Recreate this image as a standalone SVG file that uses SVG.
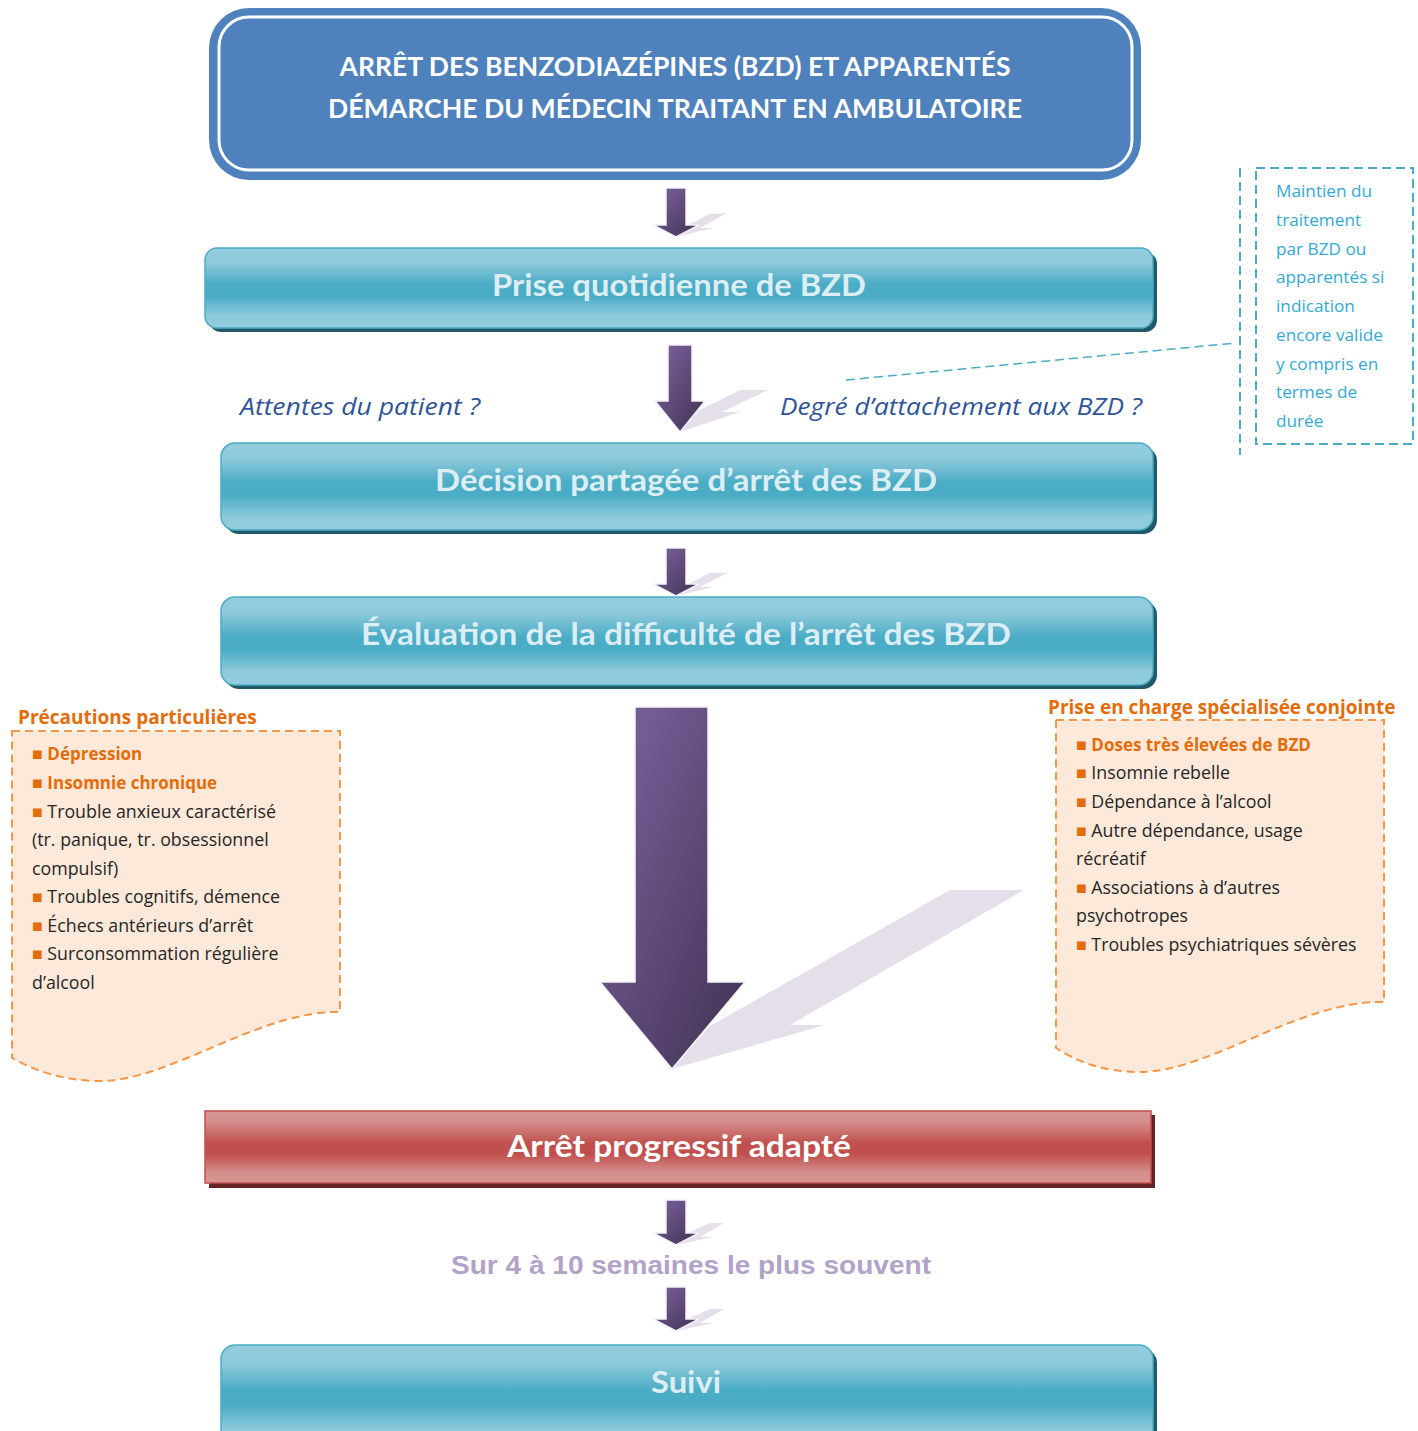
<svg xmlns="http://www.w3.org/2000/svg" width="1418" height="1431" viewBox="0 0 1418 1431">
<style>
.h{font-family:Lato,"Open Sans","Liberation Sans",sans-serif;font-weight:bold;text-anchor:middle}
.teal{fill:#DCEEF3;font-size:30px}
.q{font-family:"Open Sans",Lato,"Liberation Sans",sans-serif;font-style:italic;font-size:23px;fill:#2F5597}
.blue{font-family:"Open Sans",Lato,"Liberation Sans",sans-serif;font-size:17.2px;fill:#33A9D6}
.li{font-family:"Open Sans",Lato,"Liberation Sans",sans-serif;font-size:17.8px;fill:#262626}
.or{fill:#E46C0A;font-weight:bold;font-size:17px}
.bul{fill:#E46C0A}
.otitle{font-family:"Open Sans",Lato,"Liberation Sans",sans-serif;font-weight:bold;font-size:19px;fill:#E46C0A}
.obox{fill:#FDE9D9;stroke:#F79646;stroke-width:2;stroke-dasharray:8 5}
.shadow{fill:#E5DFEC}
.arrow{fill:url(#ag);stroke:#F4F1F7;stroke-width:1.5}
</style>
<defs>
<linearGradient id="tg" x1="0" y1="0" x2="0" y2="1">
<stop offset="0" stop-color="#93CDDD"/><stop offset="0.18" stop-color="#8ECADB"/><stop offset="0.45" stop-color="#4BACC6"/><stop offset="0.6" stop-color="#4BACC6"/><stop offset="0.85" stop-color="#8ECADB"/><stop offset="1" stop-color="#93CDDD"/>
</linearGradient>
<linearGradient id="rg" x1="0" y1="0" x2="0" y2="1">
<stop offset="0" stop-color="#D99694"/><stop offset="0.15" stop-color="#D48E8C"/><stop offset="0.45" stop-color="#C0504D"/><stop offset="0.6" stop-color="#C0504D"/><stop offset="0.85" stop-color="#D48E8C"/><stop offset="1" stop-color="#D99694"/>
</linearGradient>
<linearGradient id="ag" x1="0" y1="0" x2="1" y2="1">
<stop offset="0" stop-color="#8064A2"/><stop offset="1" stop-color="#3F3151"/>
</linearGradient>
</defs>

<g id="connectors">
<g id="arrow1">
<polygon class="shadow" points="676,237 690,224 710,214 727,213 700,228 713,228"/>
<polygon class="arrow" points="666,188 686,188 686,225 699,225 676,237 653,225 666,225"/>
</g>
<g id="arrow2">
<polygon class="shadow" points="680,432 696,412 740,390 768,390 722,412 740,412"/>
<polygon class="arrow" points="668,345 692,345 692,401 705,401 680,432 655,401 668,401"/>
</g>
<g id="arrow3">
<polygon class="shadow" points="676,596 690,583 710,573 727,573 700,587 713,587"/>
<polygon class="arrow" points="666,548 686,548 686,584 699,584 676,596 653,584 666,584"/>
</g>
<g id="arrow4">
<polygon class="shadow" points="672,1069 710,1026 950,890 1024,890 790,1025 825,1025"/>
<polygon class="arrow" points="635,707 708,707 708,982 745,982 672,1069 600,982 635,982"/>
</g>
<g id="arrow5">
<polygon class="shadow" points="676,1245 690,1232 710,1223 724,1223 700,1237 713,1237"/>
<polygon class="arrow" points="666,1200 686,1200 686,1233 699,1233 676,1245 653,1233 666,1233"/>
</g>
<g id="arrow6">
<polygon class="shadow" points="676,1331 690,1318 710,1309 724,1309 700,1323 713,1323"/>
<polygon class="arrow" points="666,1287 686,1287 686,1319 699,1319 676,1331 653,1319 666,1319"/>
</g>
<line id="note-link" x1="846" y1="380" x2="1236" y2="343" stroke="#4BACC6" stroke-width="1.5" stroke-dasharray="9 5"/>
</g>

<g id="title">
<rect x="209" y="8" width="932" height="172" rx="40" fill="#4F81BD"/>
<rect x="219" y="17" width="913" height="153" rx="30" fill="none" stroke="#FFFFFF" stroke-width="3"/>
<text class="h" x="675" y="76" font-size="26" fill="#FFFFFF" textLength="671" lengthAdjust="spacingAndGlyphs">ARRÊT DES BENZODIAZÉPINES (BZD) ET APPARENTÉS</text>
<text class="h" x="675" y="118" font-size="26" fill="#FFFFFF" textLength="694" lengthAdjust="spacingAndGlyphs">DÉMARCHE DU MÉDECIN TRAITANT EN AMBULATOIRE</text>
</g>

<g id="prise">
<rect x="209" y="252" width="948" height="80" rx="12" fill="#215968"/>
<rect x="205" y="248" width="948" height="80" rx="12" fill="url(#tg)" stroke="#4BACC6" stroke-width="1.5"/>
<text class="h teal" x="679" y="296" textLength="374" lengthAdjust="spacingAndGlyphs">Prise quotidienne de BZD</text>
</g>

<g id="questions">
<text class="q" x="240" y="415" textLength="240" lengthAdjust="spacingAndGlyphs">Attentes du patient ?</text>
<text class="q" x="780" y="415" textLength="362" lengthAdjust="spacingAndGlyphs">Degré d’attachement aux BZD ?</text>
</g>

<g id="note">
<line x1="1240" y1="168" x2="1240" y2="455" stroke="#4BACC6" stroke-width="2" stroke-dasharray="9 5"/>
<rect x="1256" y="168" width="157" height="276" fill="none" stroke="#4BACC6" stroke-width="2" stroke-dasharray="9 5"/>
<text class="blue" x="1276" y="197">Maintien du</text>
<text class="blue" x="1276" y="226">traitement</text>
<text class="blue" x="1276" y="255">par BZD ou</text>
<text class="blue" x="1276" y="283">apparentés si</text>
<text class="blue" x="1276" y="312">indication</text>
<text class="blue" x="1276" y="341">encore valide</text>
<text class="blue" x="1276" y="370">y compris en</text>
<text class="blue" x="1276" y="398">termes de</text>
<text class="blue" x="1276" y="427">durée</text>
</g>

<g id="decision">
<rect x="225" y="447" width="932" height="87" rx="14" fill="#215968"/>
<rect x="221" y="443" width="932" height="87" rx="14" fill="url(#tg)" stroke="#4BACC6" stroke-width="1.5"/>
<text class="h teal" x="686" y="491" textLength="502" lengthAdjust="spacingAndGlyphs">Décision partagée d’arrêt des BZD</text>
</g>

<g id="evaluation">
<rect x="225" y="601" width="932" height="88" rx="14" fill="#215968"/>
<rect x="221" y="597" width="932" height="88" rx="14" fill="url(#tg)" stroke="#4BACC6" stroke-width="1.5"/>
<text class="h teal" x="686" y="645" textLength="650" lengthAdjust="spacingAndGlyphs">Évaluation de la difficulté de l’arrêt des BZD</text>
</g>

<g id="precautions">
<text class="otitle" x="18" y="724">Précautions particulières</text>
<path class="obox" d="M12,731 H340 V1012 C260,1010 170,1081 100,1081 C60,1081 30,1068 12,1058 Z"/>
<text class="li" x="32" y="760"><tspan class="bul">■ </tspan><tspan class="or">Dépression</tspan></text>
<text class="li" x="32" y="789"><tspan class="bul">■ </tspan><tspan class="or">Insomnie chronique</tspan></text>
<text class="li" x="32" y="818"><tspan class="bul">■ </tspan>Trouble anxieux caractérisé</text>
<text class="li" x="32" y="846">(tr. panique, tr. obsessionnel</text>
<text class="li" x="32" y="875">compulsif)</text>
<text class="li" x="32" y="903"><tspan class="bul">■ </tspan>Troubles cognitifs, démence</text>
<text class="li" x="32" y="932"><tspan class="bul">■ </tspan>Échecs antérieurs d’arrêt</text>
<text class="li" x="32" y="960"><tspan class="bul">■ </tspan>Surconsommation régulière</text>
<text class="li" x="32" y="989">d’alcool</text>
</g>

<g id="specialisee">
<text class="otitle" x="1048" y="714">Prise en charge spécialisée conjointe</text>
<path class="obox" d="M1056,720 H1384 V1002 C1300,1000 1210,1072 1140,1072 C1100,1072 1075,1060 1056,1048 Z"/>
<text class="li" x="1076" y="751"><tspan class="bul">■ </tspan><tspan class="or">Doses très élevées de BZD</tspan></text>
<text class="li" x="1076" y="779"><tspan class="bul">■ </tspan>Insomnie rebelle</text>
<text class="li" x="1076" y="808"><tspan class="bul">■ </tspan>Dépendance à l’alcool</text>
<text class="li" x="1076" y="837"><tspan class="bul">■ </tspan>Autre dépendance, usage</text>
<text class="li" x="1076" y="865">récréatif</text>
<text class="li" x="1076" y="894"><tspan class="bul">■ </tspan>Associations à d’autres</text>
<text class="li" x="1076" y="922">psychotropes</text>
<text class="li" x="1076" y="951"><tspan class="bul">■ </tspan>Troubles psychiatriques sévères</text>
</g>

<g id="arret">
<rect x="209" y="1115" width="946" height="73" fill="#632523"/>
<rect x="205" y="1111" width="946" height="72" fill="url(#rg)" stroke="#C0504D" stroke-width="1.5"/>
<text class="h" x="679" y="1157" font-size="30" fill="#FFFFFF" textLength="344" lengthAdjust="spacingAndGlyphs">Arrêt progressif adapté</text>
</g>

<g id="duree">
<text x="691" y="1274" font-family="'Liberation Sans',Arial,sans-serif" font-weight="bold" font-size="26" fill="#B3A2C7" text-anchor="middle" textLength="480" lengthAdjust="spacingAndGlyphs">Sur 4 à 10 semaines le plus souvent</text>
</g>

<g id="suivi">
<rect x="225" y="1349" width="932" height="100" rx="14" fill="#215968"/>
<rect x="221" y="1345" width="932" height="100" rx="14" fill="url(#tg)" stroke="#4BACC6" stroke-width="1.5"/>
<text class="h teal" x="686" y="1393" textLength="70" lengthAdjust="spacingAndGlyphs">Suivi</text>
</g>
</svg>
